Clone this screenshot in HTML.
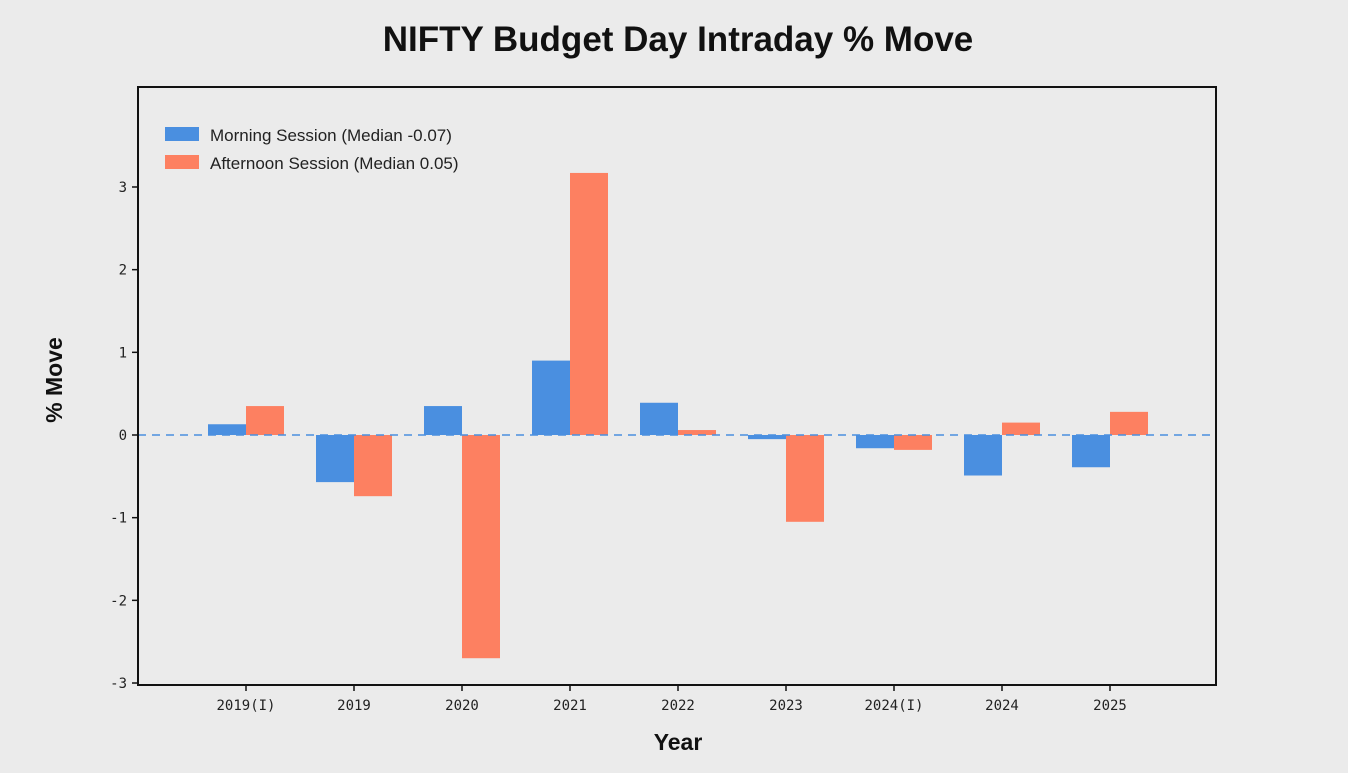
<!DOCTYPE html>
<html><head><meta charset="utf-8"><style>
body{margin:0;width:1348px;height:768px;background:#ebebeb;overflow:hidden;font-family:"Liberation Sans",sans-serif}
</style></head><body>
<svg id="chart" width="1348" height="768">
<rect x="0" y="0" width="1348" height="768" fill="#ebebeb"/>
<text x="678" y="51" text-anchor="middle" font-size="35" font-weight="bold" fill="#111">NIFTY Budget Day Intraday % Move</text>
<text x="678" y="750" text-anchor="middle" font-size="23" font-weight="bold" fill="#111">Year</text>
<text transform="translate(62,380) rotate(-90)" text-anchor="middle" font-size="23" font-weight="bold" fill="#111">% Move</text>
<g id="marks"></g>
<rect x="138" y="87" width="1078" height="598" fill="none" stroke="#111" stroke-width="2"/>
<g>
<rect x="165" y="127" width="34" height="14" fill="#4a8fe0"/>
<text x="210" y="141" font-size="17" fill="#222">Morning Session (Median -0.07)</text>
<rect x="165" y="155" width="34" height="14" fill="#fd8061"/>
<text x="210" y="169" font-size="17" fill="#222">Afternoon Session (Median 0.05)</text>
</g>
</svg>
<script>
const categories=["2019(I)","2019","2020","2021","2022","2023","2024(I)","2024","2025"];
const morning=[0.13,-0.57,0.35,0.90,0.39,-0.05,-0.16,-0.49,-0.39];
const afternoon=[0.35,-0.74,-2.70,3.17,0.06,-1.05,-0.18,0.15,0.28];
const yTicks=[-3,-2,-1,0,1,2,3];
const NS="http://www.w3.org/2000/svg";
const g=document.getElementById('marks');
const y=v=>435-v*82.67;
const x=i=>246+i*108;
const bw=38;
function mk(t,a){const e=document.createElementNS(NS,t);for(const k in a)e.setAttribute(k,a[k]);g.appendChild(e);return e;}
yTicks.forEach(t=>{
 const l=mk('line',{x1:132,x2:138,y1:y(t),y2:y(t),stroke:'#111','stroke-width':1.5});
 
 
 const tx=mk('text',{x:127,y:y(t)+5,'text-anchor':'end','font-size':14,'font-family':'DejaVu Sans Mono, monospace',fill:'#222'});
 tx.textContent=t;
 
 
});
categories.forEach((c,i)=>{
 const m=morning[i],a=afternoon[i];
 const r1=mk('rect',{x:x(i)-bw,y:Math.min(y(m),y(0)),width:bw,height:Math.abs(y(m)-y(0)),fill:'#4a8fe0'});
 
 
 const r2=mk('rect',{x:x(i),y:Math.min(y(a),y(0)),width:bw,height:Math.abs(y(a)-y(0)),fill:'#fd8061'});
 
 
 const tk=mk('line',{x1:x(i),x2:x(i),y1:685,y2:691,stroke:'#111','stroke-width':1.5});
 
 
 const tx=mk('text',{x:x(i),y:710,'text-anchor':'middle','font-size':14,'font-family':'DejaVu Sans Mono, monospace',fill:'#222'});
 tx.textContent=c;
 
 
});
const z=mk('line',{x1:138,x2:1216,y1:y(0),y2:y(0),stroke:'#4a8fe0','stroke-width':1.5,'stroke-dasharray':'8,6'});


</script>
</body></html>
